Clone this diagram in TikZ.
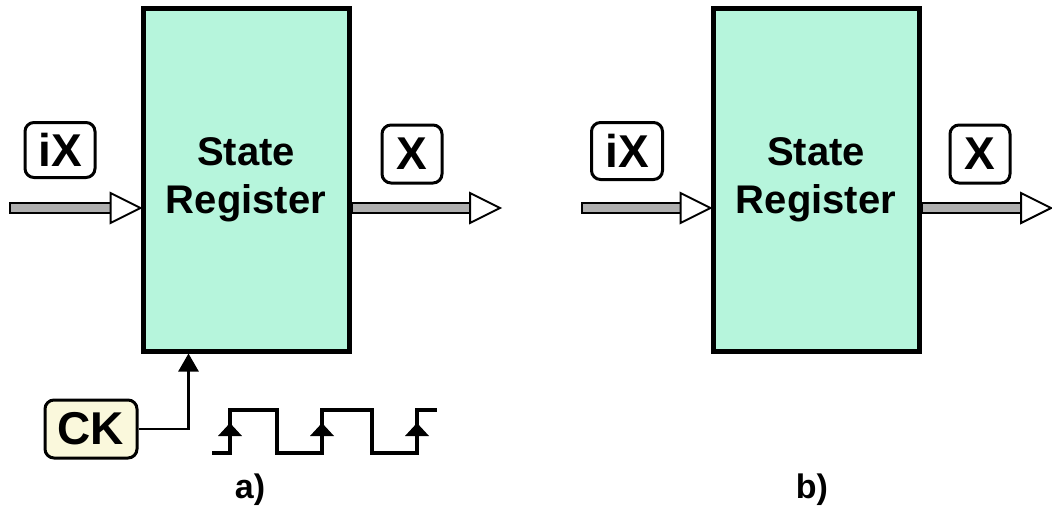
\documentclass[tikz,border=0pt]{standalone}
\usepackage{fontspec}
\setmainfont{Liberation Sans}
\usetikzlibrary{arrows.meta,calc}
\definecolor{mint}{RGB}{182,245,220}
\definecolor{ckfill}{RGB}{250,248,220}
\definecolor{shaftgray}{RGB}{175,175,175}
\tikzset{
  regbox/.style={draw=black, line width=5pt, fill=mint, minimum width=206pt, minimum height=342pt, inner sep=0pt, align=center, font=\fontsize{40}{48}\selectfont\bfseries},
  lbl/.style={draw=black, line width=3pt, rounded corners=9pt, fill=white, inner sep=0pt, font=\fontsize{46}{50}\selectfont\bfseries},
  caption/.style={font=\fontsize{34}{38}\selectfont\bfseries},
  clk/.style={line width=4pt, line join=miter},
}
\newcommand\fatarrow[2]{%
  \draw[line width=2pt, fill=shaftgray] let \p1=(#1), \p2=(#2) in
    (\x1,\y1+5pt) -- (\x2-30pt,\y1+5pt) -- (\x2-30pt,\y1-5pt) -- (\x1,\y1-5pt) -- cycle;
  \draw[line width=2pt, fill=white, line join=miter] let \p1=(#1), \p2=(#2) in
    (\x2-30pt,\y1+15pt) -- (\x2,\y1) -- (\x2-30pt,\y1-15pt) -- cycle;}
\begin{document}
\begin{tikzpicture}[x=1pt,y=-1pt]
\useasboundingbox[fill=white] (0,0) rectangle (1052,511);
% panel a
\node[regbox] (boxa) at (246,180) {State\\Register};
\node[lbl, minimum width=70pt, minimum height=55pt] (ixa) at (60,150) {iX};
\node[lbl, minimum width=60pt, minimum height=58pt] (xa) at (412,154) {X};
\node[lbl, fill=ckfill, minimum width=92pt, minimum height=58pt] (ck) at (91,429) {CK};
\coordinate (ina) at (10,208);
\coordinate (ina2) at ([yshift=-28pt]boxa.west);
\coordinate (outa) at ([yshift=-28pt]boxa.east);
\coordinate (outa2) at (500,208);
\fatarrow{ina}{ina2}
\fatarrow{outa}{outa2}
\draw[line width=2.5pt, -{Triangle[length=18pt,width=20pt]}] (ck.east) -| ([xshift=48pt]boxa.south west);
% clock waveform
\draw[clk] (212,453) -- (230,453) -- (230,410) -- (277,410) -- (277,453) -- (322,453) -- (322,410) -- (372,410) -- (372,453) -- (417,453) -- (417,410) -- (437,410);
\foreach \xx/\nm in {230/ea,322/eb,417/ec}{
  \coordinate (\nm1) at (\xx,423);
  \fill (\nm1) -- ([xshift=-12pt,yshift=-13pt]\nm1) -- ([xshift=12pt,yshift=-13pt]\nm1) -- cycle;
}
\node[caption] (capa) at (250,490) {a)};
% panel b
\node[regbox] (boxb) at (816,180) {State\\Register};
\node[lbl, minimum width=71pt, minimum height=57pt] (ixb) at (627,151) {iX};
\node[lbl, minimum width=60pt, minimum height=58pt] (xb) at (980,154) {X};
\coordinate (inb) at (582,208);
\coordinate (inb2) at ([yshift=-28pt]boxb.west);
\coordinate (outb) at ([yshift=-28pt]boxb.east);
\coordinate (outb2) at (1051,208);
\fatarrow{inb}{inb2}
\fatarrow{outb}{outb2}
\node[caption] (capb) at (812,490) {b)};
\end{tikzpicture}
\end{document}
